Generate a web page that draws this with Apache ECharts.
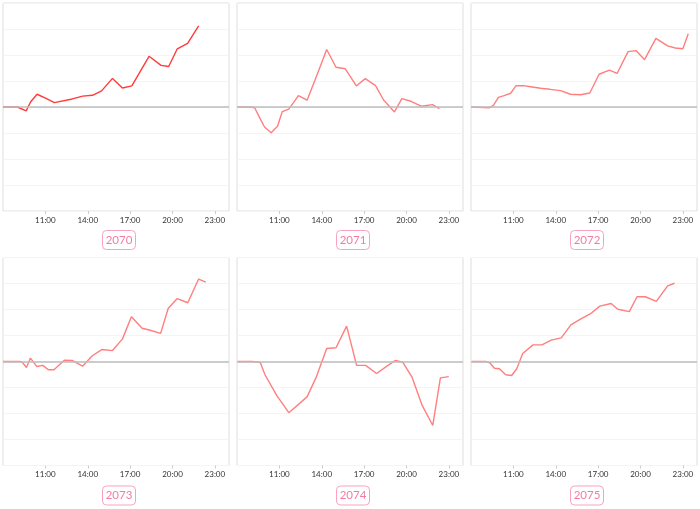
<!DOCTYPE html>
<html>
<head>
<meta charset="utf-8">
<script src="https://cdn.jsdelivr.net/npm/echarts@6/dist/echarts.min.js"></script>
<style>html,body{margin:0;padding:0;background:#fff}#c{width:700px;height:509px}</style>
</head>
<body>
<div id="c"></div>
<script>
// Panel names
var years = ['2070', '2071', '2072', '2073', '2074', '2075'];
// x-axis tick hours (labels shown as HH:00)
var tickHours = [11, 14, 17, 20, 23];

// Series: times (decimal hours) and values
var t2070 = [8.0, 9.02, 9.64, 9.96, 10.41, 11.05, 11.64, 12.91, 13.64, 14.34, 14.98, 15.75, 16.46, 17.12, 18.34, 19.19, 19.73, 20.34, 21.07, 21.85];
var v2070 = [0, 0, -0.15, 0.2, 0.49, 0.33, 0.17, 0.31, 0.42, 0.45, 0.62, 1.10, 0.73, 0.81, 1.95, 1.60, 1.56, 2.24, 2.45, 3.12];

var t2071 = [8.05, 8.94, 9.25, 9.6, 9.95, 10.42, 10.87, 11.2, 11.67, 12.35, 12.96, 13.67, 14.35, 15.01, 15.67, 16.45, 17.08, 17.81, 18.38, 19.15, 19.67, 20.31, 21.04, 21.84, 22.33];
var v2071 = [0, 0, -0.03, -0.41, -0.77, -0.99, -0.74, -0.18, -0.08, 0.44, 0.26, 1.24, 2.21, 1.53, 1.47, 0.81, 1.09, 0.82, 0.27, -0.19, 0.32, 0.22, 0.03, 0.09, -0.06];

var t2072 = [8.03, 9.28, 9.59, 9.94, 10.34, 10.81, 11.19, 11.71, 12.22, 12.93, 13.59, 14.34, 15.05, 15.75, 16.41, 17.07, 17.8, 18.34, 19.12, 19.68, 20.29, 21.09, 21.92, 22.46, 23.0, 23.38];
var v2072 = [0, -0.03, 0.06, 0.37, 0.44, 0.53, 0.82, 0.82, 0.78, 0.72, 0.68, 0.63, 0.49, 0.47, 0.54, 1.26, 1.42, 1.29, 2.13, 2.17, 1.82, 2.64, 2.35, 2.27, 2.24, 2.82];

var t2073 = [8.0, 9.2, 9.38, 9.66, 9.94, 10.39, 10.82, 11.21, 11.61, 12.34, 12.9, 13.63, 14.34, 15.0, 15.75, 16.46, 17.09, 17.85, 18.36, 19.16, 19.7, 20.34, 21.08, 21.85, 22.36];
var v2073 = [0, 0, -0.04, -0.23, 0.13, -0.19, -0.15, -0.32, -0.32, 0.05, 0.04, -0.18, 0.23, 0.46, 0.42, 0.87, 1.72, 1.28, 1.21, 1.08, 2.05, 2.42, 2.26, 3.17, 3.05];

var t2074 = [8.05, 9.06, 9.65, 9.98, 10.82, 11.67, 12.96, 13.62, 14.35, 15.01, 15.76, 16.47, 17.11, 17.88, 18.59, 19.2, 19.74, 20.38, 21.11, 21.86, 22.4, 22.99];
var v2074 = [0, 0, -0.04, -0.51, -1.31, -1.97, -1.36, -0.59, 0.5, 0.53, 1.36, -0.15, -0.15, -0.46, -0.19, 0.04, -0.03, -0.59, -1.69, -2.46, -0.63, -0.58];

var t2075 = [8.06, 9.04, 9.33, 9.66, 10.01, 10.46, 10.88, 11.24, 11.66, 12.39, 13.02, 13.68, 14.39, 15.07, 15.75, 16.44, 17.12, 17.92, 18.39, 19.21, 19.75, 20.34, 21.12, 21.92, 22.41];
var v2075 = [0, 0, -0.05, -0.26, -0.28, -0.51, -0.54, -0.28, 0.31, 0.64, 0.64, 0.82, 0.91, 1.41, 1.63, 1.83, 2.13, 2.23, 2.01, 1.92, 2.49, 2.49, 2.31, 2.91, 3.01];

var times = [t2070, t2071, t2072, t2073, t2074, t2075];
var values = [v2070, v2071, v2072, v2073, v2074, v2075];

function pairs(t, v) { return t.map(function (x, i) { return [x, v[i]]; }); }

var chart = echarts.init(document.getElementById('c'), null, { renderer: 'canvas' });
var grids = [], xAxes = [], yAxes = [], series = [], titles = [];
var lefts = [3, 237, 471], tops = [3, 257.5], centers = [116, 350, 584], titleTops = [230, 485.5];
for (var i = 0; i < 6; i++) {
  var c = i % 3, r = Math.floor(i / 3);
  grids.push({ left: lefts[c], top: tops[r], width: 226, height: 208, show: true, borderColor: '#dedede', borderWidth: 1, containLabel: false });
  xAxes.push({
    type: 'value', gridIndex: i, min: 8, max: 24, interval: 3,
    axisLine: { show: false, onZero: false },
    axisTick: { show: true, length: 3, lineStyle: { color: '#cccccc' } },
    splitLine: { show: false },
    axisLabel: {
      fontSize: 8, color: '#333', margin: 5, fontFamily: 'Lato, sans-serif',
      showMinLabel: false, showMaxLabel: false,
      formatter: function (v) { return tickHours.indexOf(v) >= 0 ? v + ':00' : ''; }
    }
  });
  yAxes.push({
    type: 'value', gridIndex: i, min: -4, max: 4, interval: 1,
    axisLine: { show: false }, axisTick: { show: false }, axisLabel: { show: false },
    splitLine: { show: true, lineStyle: { color: '#f4f4f4', width: 1 } }
  });
  series.push({
    type: 'line', xAxisIndex: i, yAxisIndex: i, data: pairs(times[i], values[i]),
    showSymbol: false, symbol: 'none',
    lineStyle: { color: i === 0 ? '#ff3b3b' : '#ff7f7f', width: 1.4 },
    markLine: {
      silent: true, symbol: 'none', label: { show: false },
      lineStyle: { color: '#bdbdbd', width: 1.5, type: 'solid' },
      data: [{ yAxis: 0 }]
    },
    z: 3
  });
  titles.push({
    text: years[i], left: centers[c], top: titleTops[r], textAlign: 'center',
    borderColor: '#f7a3bf', borderWidth: 1, borderRadius: 4, padding: [4, 3],
    textStyle: { color: '#f27ca1', fontSize: 11.5, lineHeight: 12, fontWeight: 'normal', fontFamily: 'Lato, sans-serif' }
  });
}
chart.setOption({
  animation: false,
  title: titles, grid: grids, xAxis: xAxes, yAxis: yAxes, series: series
});
</script>
</body>
</html>
